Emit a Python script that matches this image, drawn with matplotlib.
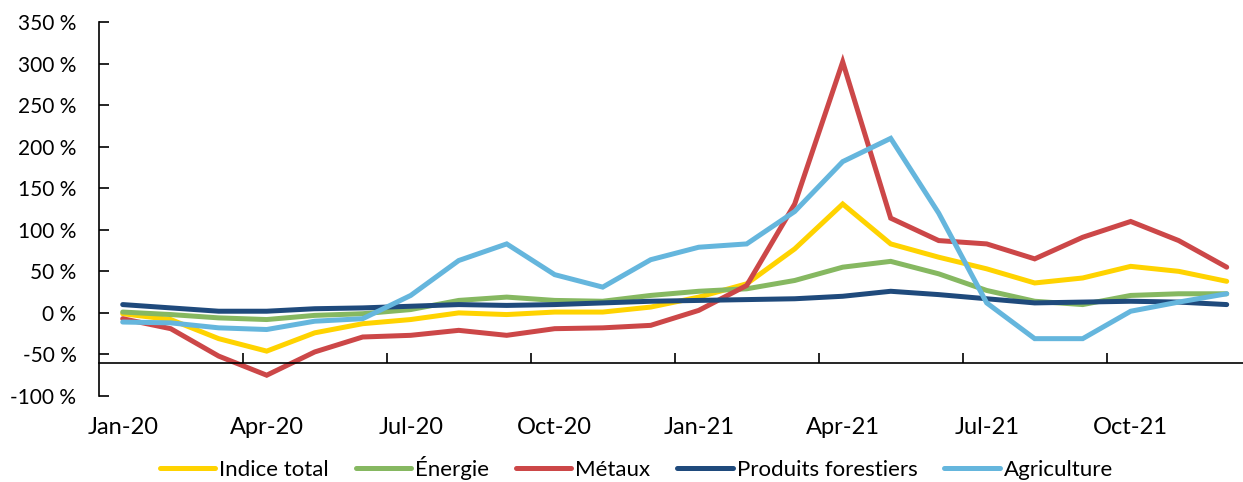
"""
Variation annuelle des prix des produits de base, par groupe.
"""

import matplotlib
matplotlib.use("Agg")
import matplotlib.pyplot as plt
import numpy as np

# months Jan-20 .. Dec-21
months = ["Jan-20", "Feb-20", "Mar-20", "Apr-20", "May-20", "Jun-20",
          "Jul-20", "Aug-20", "Sep-20", "Oct-20", "Nov-20", "Dec-20",
          "Jan-21", "Feb-21", "Mar-21", "Apr-21", "May-21", "Jun-21",
          "Jul-21", "Aug-21", "Sep-21", "Oct-21", "Nov-21", "Dec-21"]

indice_total = [-1, -8, -31, -46, -24, -13, -8, 0, -2, 1, 1, 7,
                19, 35, 77, 131, 83, 67, 53, 36, 42, 56, 50, 38]
energie = [1, -2, -6, -8, -3, -1, 4, 15, 19, 15, 14, 21,
           26, 29, 39, 55, 62, 47, 27, 14, 10, 21, 23, 23]
metaux = [-7, -19, -52, -75, -47, -29, -27, -21, -27, -19, -18, -15,
          3, 33, 131, 302, 114, 87, 83, 65, 91, 110, 87, 55]
forestiers = [10, 6, 2, 2, 5, 6, 8, 10, 9, 10, 12, 14,
              15, 16, 17, 20, 26, 22, 17, 12, 13, 14, 13, 10]
agriculture = [-11, -12, -18, -20, -10, -7, 21, 63, 83, 46, 31, 64,
               79, 83, 122, 182, 210, 120, 12, -31, -31, 2, 13, 23]

labels = ["Indice total", "Énergie", "Métaux", "Produits forestiers", "Agriculture"]
colors = ["#FFD300", "#86B861", "#CC4748", "#1F4A7C", "#65B6DD"]

yticks = np.arange(-100, 351, 50)
label_every = 3

plt.rcParams["font.family"] = ["Lato", "DejaVu Sans"]

fig = plt.figure(figsize=(12.43, 4.82), dpi=100)
ax = fig.add_axes([98.7 / 1243, 1 - 396 / 482, 1152 / 1243, 374 / 482])

x = np.arange(len(months))
for series, lab, col in zip([indice_total, energie, metaux, forestiers, agriculture],
                            labels, colors):
    ax.plot(x, series, color=col, lw=3.6, label=lab, solid_capstyle="round",
            solid_joinstyle="miter")

ax.set_xlim(-0.5, len(months) - 0.5)
ax.set_ylim(-100, 350)

# y axis
ax.set_yticks(yticks)
ax.set_yticklabels([f"{v} %" for v in yticks])
ax.tick_params(axis="y", direction="in", length=7, width=1.2, pad=16, labelsize=15)

# x axis crosses at -60 %, ticks between categories
ax.spines["bottom"].set_position(("data", -60))
ax.set_xticks(np.arange(-0.5 + label_every, len(months) - 0.5, label_every))
ax.tick_params(axis="x", direction="in", length=7, width=1.2, labelbottom=False)
for i in range(0, len(months), label_every):
    ax.text(i, -31 / 374, months[i], transform=ax.get_xaxis_transform(),
            ha="center", va="center", fontsize=17)

for s in ["top", "right"]:
    ax.spines[s].set_visible(False)
for s in ["left", "bottom"]:
    ax.spines[s].set_linewidth(1.2)

fig.legend(loc="center", bbox_to_anchor=(0.512, 1 - 468 / 482), ncol=5,
           frameon=False, fontsize=16, handlelength=2.5, handletextpad=0.18,
           columnspacing=1.2)

fig.savefig("out.png", dpi=100)
